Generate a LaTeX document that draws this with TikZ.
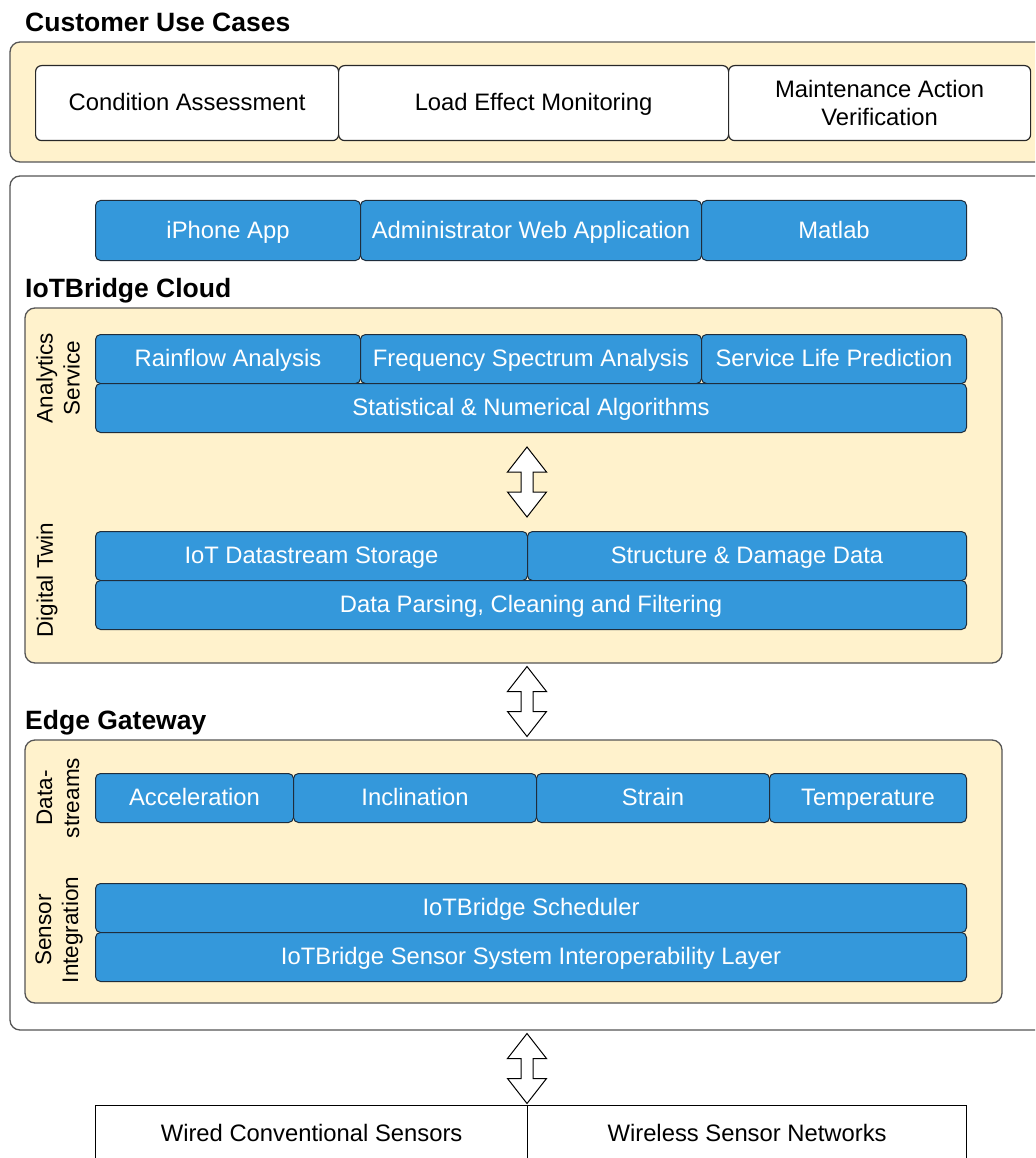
\documentclass[tikz,border=0pt]{standalone}
\usepackage{fontspec}
\setmainfont{Liberation Sans}
\usepackage{tikz}
\usetikzlibrary{calc,positioning}
\definecolor{cream}{RGB}{255,242,204}
\definecolor{boxblue}{RGB}{52,152,219}
\definecolor{boxedge}{RGB}{30,45,60}
\definecolor{framegray}{RGB}{85,85,85}
\definecolor{caseedge}{RGB}{40,40,40}
\newcommand{\bodyfont}{\fontsize{23.8}{28}\selectfont}
\newcommand{\sidefont}{\fontsize{22.5}{27}\selectfont}
\newcommand{\titlefont}{\fontsize{26.5}{31}\selectfont\bfseries}
\tikzstyle{evenline} = [text height=19pt, text depth=3.6pt]
\tikzstyle{frame} = [draw=framegray, line width=1.3pt, fill=white, rounded corners=10pt, inner sep=0pt, outer sep=0pt, anchor=north west]
\tikzstyle{panel} = [frame, fill=cream]
\tikzstyle{usecase} = [draw=caseedge, line width=1.2pt, fill=white, rounded corners=6pt, inner sep=0pt, anchor=north west, align=center, font=\bodyfont]
\tikzstyle{bluebox} = [draw=boxedge, line width=1pt, fill=boxblue, text=white, rounded corners=5pt, inner sep=0pt, anchor=north west, font=\bodyfont, evenline]
\tikzstyle{sensorbox} = [draw=black, line width=1.2pt, fill=white, inner sep=0pt, anchor=north west, font=\bodyfont]
\tikzstyle{layertitle} = [anchor=west, inner sep=0pt, font=\titlefont]
\tikzstyle{sidelabel} = [rotate=90, align=center, inner sep=0pt, font=\sidefont]
\tikzstyle{updown} = [draw=black, line width=1pt, fill=white]
\newcommand{\dblarrow}[1]{\draw[updown, shift={(#1)}] (0,-35) -- (19.5,-10) -- (6,-10) -- (6,10) -- (19.5,10) -- (0,35) -- (-19.5,10) -- (-6,10) -- (-6,-10) -- (-19.5,-10) -- cycle;}

\begin{document}
\begin{tikzpicture}[x=1pt,y=-1pt]
\path[use as bounding box, clip] (0,0) rectangle (1035,1158);

% customer use cases
\node[layertitle] (casetitle) at (25,22) {Customer Use Cases};
\node[panel, minimum width=1040, minimum height=120] (cases) at (10,42) {};
\node[usecase, evenline, minimum width=303, minimum height=75] (condition) at (35,65) {Condition Assessment};
\node[usecase, evenline, minimum width=390, minimum height=75] (loadeffect) at (338,65) {Load Effect Monitoring};
\node[usecase, minimum width=302, minimum height=75] (maintenance) at (728,65) {Maintenance Action\\Verification};

% platform
\node[frame, minimum width=1040, minimum height=854] (platform) at (10,176) {};
\node[bluebox, minimum width=265, minimum height=60] (iphone) at (95,200) {iPhone App};
\node[bluebox, minimum width=341, minimum height=60] (webapp) at (360,200) {Administrator Web Application};
\node[bluebox, minimum width=265, minimum height=60] (matlab) at (701,200) {Matlab};

% cloud
\node[layertitle] (cloudtitle) at (25,291) {IoTBridge Cloud};
\node[panel, minimum width=977, minimum height=355] (cloud) at (25,308) {};
\node[sidelabel] (analytics) at (58,378) {Analytics\\Service};
\node[bluebox, minimum width=265, minimum height=49] (rainflow) at (95,334) {Rainflow Analysis};
\node[bluebox, minimum width=341, minimum height=49] (spectrum) at (360,334) {Frequency Spectrum Analysis};
\node[bluebox, minimum width=265, minimum height=49] (lifetime) at (701,334) {Service Life Prediction};
\node[bluebox, minimum width=871, minimum height=49] (stats) at (95,383) {Statistical \& Numerical Algorithms};
\node[sidelabel] (twin) at (47,580) {Digital Twin};
\node[bluebox, minimum width=432, minimum height=49] (storage) at (95,531) {IoT Datastream Storage};
\node[bluebox, minimum width=439, minimum height=49] (damage) at (527,531) {Structure \& Damage Data};
\node[bluebox, minimum width=871, minimum height=49] (parsing) at (95,580) {Data Parsing, Cleaning and Filtering};

% edge gateway
\node[layertitle] (edgetitle) at (25,723) {Edge Gateway};
\node[panel, minimum width=977, minimum height=263] (edge) at (25,740) {};
\node[sidelabel] (streams) at (58,798) {Data-\\streams};
\node[bluebox, minimum width=198, minimum height=49] (accel) at (95,773) {Acceleration};
\node[bluebox, minimum width=243, minimum height=49] (incl) at (293,773) {Inclination};
\node[bluebox, minimum width=233, minimum height=49] (strain) at (536,773) {Strain};
\node[bluebox, minimum width=197, minimum height=49] (temp) at (769,773) {Temperature};
\node[sidelabel] (integration) at (59,930) {Sensor\\Integration};
\node[bluebox, minimum width=871, minimum height=49] (scheduler) at (95,883) {IoTBridge Scheduler};
\node[bluebox, minimum width=871, minimum height=49] (interop) at (95,932) {IoTBridge Sensor System Interoperability Layer};

% sensors
\node[sensorbox, minimum width=432, minimum height=80] (wired) at (95,1105) {};
\node[sensorbox, minimum width=439, minimum height=80] (wireless) at (527,1105) {};
\node[font=\bodyfont, evenline] (wiredtext) at ($(wired.north)+(0,29)$) {Wired Conventional Sensors};
\node[font=\bodyfont, evenline] (wirelesstext) at ($(wireless.north)+(0,29)$) {Wireless Sensor Networks};

% double arrows
\coordinate (arrA) at (527,482);
\coordinate (arrB) at (527,701.5);
\coordinate (arrC) at (527,1068.5);
\dblarrow{arrA}
\dblarrow{arrB}
\dblarrow{arrC}
\end{tikzpicture}
\end{document}
